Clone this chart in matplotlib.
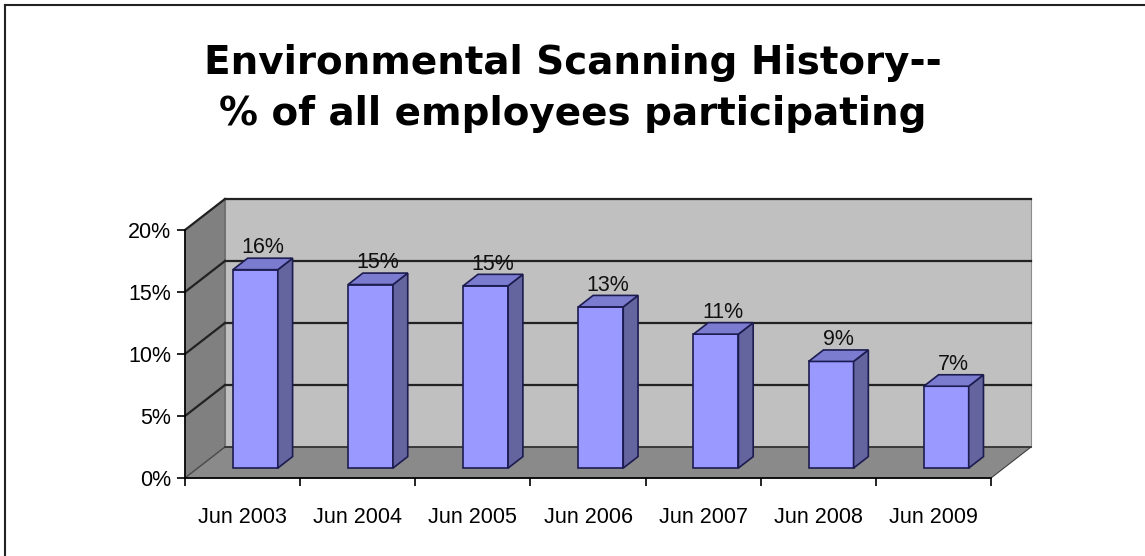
import matplotlib
matplotlib.use('Agg')
import matplotlib.pyplot as plt
from matplotlib.patches import Polygon
from matplotlib.lines import Line2D
from matplotlib.ticker import PercentFormatter

# survey periods and share of employees participating (%)
periods = ['Jun 2003', 'Jun 2004', 'Jun 2005', 'Jun 2006', 'Jun 2007', 'Jun 2008', 'Jun 2009']
participation = [16.0, 14.8, 14.7, 13.0, 10.8, 8.6, 6.6]
y_ticks = [0, 5, 10, 15, 20]

plt.rcParams['font.family'] = ['Liberation Sans', 'DejaVu Sans']

# 3d look: depth of the plot box in data units, and where the bars sit in it
DX, DY = 0.347, 2.5
FRONT, BACK = 0.32, 0.69
BAR_W = 0.39
YMAX = 20
n = len(periods)
x0, x1 = -0.5, n - 0.5

fig = plt.figure(figsize=(11.45, 5.56), dpi=100)
ax = fig.add_axes([0.16157, 0.14029, 0.73886, 0.50180])
ax.set_xlim(x0, x1 + DX)
ax.set_ylim(0, YMAX + DY)
ax.patch.set_visible(False)


def face(pts, fc, ec='#404040', lw=0.8, z=1, **kw):
    ax.add_patch(Polygon(pts, closed=True, facecolor=fc, edgecolor=ec,
                         linewidth=lw, zorder=z, clip_on=False, **kw))


# walls and floor
face([(x0 + DX, DY), (x1 + DX, DY), (x1 + DX, YMAX + DY), (x0 + DX, YMAX + DY)], '#c0c0c0', ec='#8c8c8c')
face([(x0, 0), (x0 + DX, DY), (x0 + DX, YMAX + DY), (x0, YMAX)], '#808080', ec='#606060')
face([(x0, 0), (x1, 0), (x1 + DX, DY), (x0 + DX, DY)], '#8a8a8a', ec='#404040')

# gridlines on the back wall and side wall
for t in y_ticks:
    if t == 0:
        ax.plot([x0, x0 + DX], [0, DY], color='#555555', lw=1, ls=(0, (3, 2)), zorder=2, clip_on=False)
        ax.plot([x0 + DX, x1 + DX], [DY, DY], color='#333333', lw=1.2, zorder=2, clip_on=False)
        continue
    ax.plot([x0 + DX, x1 + DX], [t + DY, t + DY], color='#222222', lw=1.6, zorder=2, clip_on=False)
    ax.plot([x0, x0 + DX], [t, t + DY], color='#222222', lw=1.6, zorder=2, clip_on=False)

# bars: front, side and top faces
edge = '#1c1c50'
for i, v in enumerate(participation):
    l = i - BAR_W / 2 + FRONT * DX
    r = i + BAR_W / 2 + FRONT * DX
    b = FRONT * DY
    ddx = (BACK - FRONT) * DX
    ddy = (BACK - FRONT) * DY
    face([(l, b), (r, b), (r, v + b), (l, v + b)], '#9999ff', ec=edge, lw=1.2, z=3)
    face([(r, b), (r + ddx, b + ddy), (r + ddx, v + b + ddy), (r, v + b)], '#64649f', ec=edge, lw=1.2, z=3)
    face([(l, v + b), (r, v + b), (r + ddx, v + b + ddy), (l + ddx, v + b + ddy)], '#7b7bd0', ec=edge, lw=1.2, z=3)
    mid = (FRONT + BACK) / 2
    ax.annotate(f'{v:.0f}%', (i + mid * DX, v + mid * DY), xytext=(0, 4),
                textcoords='offset points', ha='center', va='bottom',
                fontsize=15.5, color='#111111', zorder=4)

# front axes
for s in ['top', 'right']:
    ax.spines[s].set_visible(False)
ax.spines['left'].set_bounds(0, YMAX)
ax.spines['bottom'].set_bounds(x0, x1)
for s in ['left', 'bottom']:
    ax.spines[s].set_color('black')
    ax.spines[s].set_linewidth(1.2)
    ax.spines[s].set_zorder(5)

ax.set_yticks(y_ticks)
ax.yaxis.set_major_formatter(PercentFormatter(decimals=0))
ax.tick_params(axis='y', length=6, width=1.2, pad=4, labelsize=15.5, direction='out')

ax.set_xticks(range(n))
ax.set_xticklabels(periods)
ax.set_xticks([k - 0.5 for k in range(n + 1)], minor=True)
ax.tick_params(axis='x', which='major', length=0, pad=21, labelsize=15.5)
ax.tick_params(axis='x', which='minor', length=6, width=1.2, direction='out')

fig.text(0.5, 1 - 44 / 556, 'Environmental Scanning History--\n% of all employees participating',
         ha='center', va='top', fontsize=28, fontweight='bold', linespacing=1.42,
         family=['DejaVu Sans'])

# outer frame (top and left edges visible in the reference)
fig.add_artist(Line2D([0.0044, 0.0044], [0, 1 - 5 / 556], transform=fig.transFigure, color='#222222', lw=1.5))
fig.add_artist(Line2D([0.0044, 1], [1 - 5 / 556, 1 - 5 / 556], transform=fig.transFigure, color='#222222', lw=1.5))

fig.savefig('out.png', dpi=100, facecolor='white')
